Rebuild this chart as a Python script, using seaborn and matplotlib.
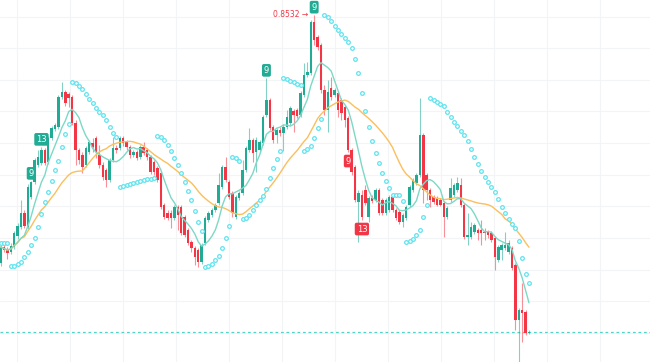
import numpy as np
import pandas as pd
import matplotlib
matplotlib.use("Agg")
import matplotlib.pyplot as plt
import seaborn as sns

# candle data, price x 1000 (one entry per candle, left to right)
opens = [605, 621, 618, 616, 621, 632, 641, 655, 641, 671,
         686, 703, 705, 718, 706, 730, 739, 741, 771, 776,
         774, 771, 745, 718, 713, 703, 716, 725, 730, 713,
         703, 698, 688, 708, 720, 720, 730, 726, 721, 713,
         716, 711, 721, 718, 711, 706, 700, 695, 663, 655,
         655, 650, 661, 661, 651, 638, 626, 620, 618, 606,
         625, 648, 653, 658, 665, 681, 701, 686, 675, 651,
         670, 675, 698, 718, 728, 716, 718, 725, 753, 768,
         741, 733, 738, 735, 741, 745, 757, 758, 753, 773,
         793, 795, 846, 831, 823, 778, 758, 780, 773, 775,
         768, 761, 750, 718, 701, 666, 673, 678, 651, 670,
         668, 678, 668, 655, 658, 671, 658, 656, 646, 650,
         663, 678, 685, 693, 733, 693, 678, 671, 670, 668,
         665, 651, 668, 673, 678, 683, 663, 631, 631, 636,
         638, 638, 636, 636, 635, 630, 608, 618, 620, 616,
         620, 603, 548, 558, 556, 535]
highs = [625, 624, 621, 625, 637, 645, 668, 658, 684, 687,
         710, 718, 721, 720, 732, 742, 745, 773, 786, 778,
         776, 773, 748, 720, 716, 722, 728, 730, 732, 723,
         706, 700, 710, 731, 723, 732, 732, 728, 723, 718,
         718, 723, 726, 720, 713, 708, 702, 697, 665, 658,
         658, 663, 663, 663, 653, 640, 628, 622, 620, 625,
         652, 657, 660, 665, 695, 703, 711, 688, 677, 673,
         677, 708, 722, 740, 730, 731, 728, 753, 790, 770,
         743, 740, 741, 744, 758, 762, 759, 760, 777, 805,
         806, 848, 853.2, 833, 825, 783, 788, 791, 780, 777,
         770, 763, 752, 720, 703, 678, 678, 683, 672, 673,
         680, 680, 670, 670, 673, 673, 660, 658, 655, 663,
         683, 690, 695, 770, 735, 695, 680, 673, 672, 670,
         667, 662, 690, 685, 691, 690, 665, 655, 646, 645,
         640, 648, 640, 638, 637, 632, 623, 625, 636, 628,
         622, 605, 560, 585, 558, 538]
lows = [602, 616, 609, 614, 619, 629, 639, 640, 639, 669,
        684, 701, 703, 703, 704, 728, 737, 739, 769, 762,
        761, 743, 703, 704, 695, 701, 714, 716, 710, 700,
        688, 681, 686, 706, 715, 718, 722, 718, 710, 711,
        708, 709, 713, 708, 694, 693, 686, 659, 649, 648,
        640, 648, 638, 633, 631, 623, 616, 603, 601, 604,
        623, 646, 651, 656, 663, 679, 686, 669, 651, 649,
        668, 673, 696, 716, 706, 696, 716, 723, 751, 738,
        725, 725, 732, 717, 739, 743, 736, 750, 751, 771,
        791, 793, 823, 818, 775, 753, 736, 768, 771, 751,
        748, 741, 716, 693, 666, 626, 648, 663, 646, 665,
        666, 653, 653, 653, 656, 656, 648, 644, 641, 648,
        661, 676, 683, 691, 665, 668, 661, 664, 662, 662,
        631, 649, 666, 671, 676, 661, 629, 623, 629, 634,
        628, 623, 628, 630, 626, 598, 606, 608, 618, 614,
        598, 538, 500, 526, 533, 534]
closes = [621, 618, 615, 622, 635, 642, 655, 642, 681, 686,
          708, 711, 718, 705, 730, 740, 743, 771, 776, 765,
          770, 745, 718, 708, 701, 720, 726, 721, 716, 703,
          691, 688, 708, 720, 718, 730, 725, 721, 713, 716,
          710, 721, 715, 711, 696, 696, 688, 661, 651, 650,
          650, 661, 653, 635, 633, 625, 620, 611, 606, 623,
          650, 655, 658, 663, 683, 701, 688, 671, 655, 671,
          675, 698, 720, 728, 715, 728, 726, 751, 768, 740,
          728, 738, 735, 741, 751, 760, 753, 752, 775, 793,
          796, 846, 828, 821, 778, 758, 776, 771, 778, 758,
          755, 748, 718, 696, 668, 675, 651, 665, 670, 667,
          678, 655, 655, 668, 671, 658, 650, 646, 653, 661,
          681, 688, 693, 733, 678, 678, 668, 666, 663, 663,
          651, 660, 680, 683, 685, 663, 631, 633, 641, 643,
          635, 635, 635, 633, 628, 611, 621, 623, 623, 625,
          600, 548, 558, 555, 535, 536]

# TD sequential counts: candle index, text, above (True) / below (False)
label_idx = [9, 12, 78, 92, 102, 106]
label_txt = ["9", "13", "9", "9", "9", "13"]
label_above = [True, True, True, True, False, False]

UP = "#22ab94"
DOWN = "#f23645"
MA_FAST = "#7dd8c6"
MA_SLOW = "#fbbf5c"
SAR_COL = "#5fe3ef"


def parabolic_sar(high, low, step=0.02, max_step=0.2):
    sar = np.zeros(len(high))
    up = False
    af = step
    ep = low[0]
    sar[0] = high[0]
    for i in range(1, len(high)):
        s = sar[i - 1] + af * (ep - sar[i - 1])
        if up:
            s = min(s, low[i - 1], low[max(i - 2, 0)])
            if low[i] < s:
                up, s, ep, af = False, ep, low[i], step
            elif high[i] > ep:
                ep, af = high[i], min(af + step, max_step)
        else:
            s = max(s, high[i - 1], high[max(i - 2, 0)])
            if high[i] > s:
                up, s, ep, af = True, ep, high[i], step
            elif low[i] < ep:
                ep, af = low[i], min(af + step, max_step)
        sar[i] = s
    return sar


df = pd.DataFrame({"open": opens, "high": highs, "low": lows, "close": closes}) / 1000
df["i"] = np.arange(len(df))
df["ma_fast"] = df["close"].rolling(7, min_periods=1).mean()
df["ma_slow"] = df["close"].rolling(25, min_periods=1).mean()
df["sar"] = parabolic_sar(df["high"].values, df["low"].values)

sns.set_style("white")
fig = plt.figure(figsize=(6.5, 3.62), dpi=100)
ax = fig.add_axes([0, 0, 1, 1])

# candles
rising = df["close"] >= df["open"]
cols = np.where(rising, UP, DOWN)
ax.vlines(df["i"], df["low"], df["high"], colors=cols, linewidth=0.8, alpha=0.55, zorder=2)
body = np.maximum((df["close"] - df["open"]).abs(), 0.0012)
ax.bar(df["i"], body, bottom=np.minimum(df["open"], df["close"]), width=0.72,
       color=cols, linewidth=0, zorder=3)

# moving averages
sns.lineplot(data=df, x="i", y="ma_slow", color=MA_SLOW, linewidth=1.0, ax=ax, zorder=4)
sns.lineplot(data=df, x="i", y="ma_fast", color=MA_FAST, linewidth=1.0, ax=ax, zorder=4)

# parabolic SAR
sns.scatterplot(data=df, x="i", y="sar", marker="o", s=7, facecolor="white",
                edgecolor=SAR_COL, linewidth=0.9, ax=ax, zorder=5)

# last price line
ax.axhline(df["close"].iloc[-1], color="#4fd4c6", linewidth=0.9, linestyle=(0, (2.2, 2.2)), zorder=1)

# count labels
for idx, txt, above in zip(label_idx, label_txt, label_above):
    if above:
        y, off, c = df["high"][idx], 5.5, UP
    else:
        y, off, c = df["low"][idx], -6.5, DOWN
    ax.annotate(txt, (idx, y), xytext=(0, off), textcoords="offset points",
                ha="center", va="center", fontsize=6, color="white", zorder=6,
                bbox=dict(boxstyle="round,pad=0.22", fc=c, ec="none"))

# high marker
peak = df["high"].idxmax()
ax.annotate(f"{df['high'][peak]:.4f} \u2192", (peak, df["high"][peak]), xytext=(-4, 0.5),
            textcoords="offset points", ha="right", va="center", fontsize=5.5,
            color=DOWN, zorder=6)

ax.set_xlim(-0.15, 190.5)
ax.set_ylim(0.506, 0.868)
ax.set_xticks(np.arange(4.84, 191, 15.54))
ax.set_yticks(np.arange(0.535, 0.87, 0.03165))
ax.grid(True, color="#f3f4f6", linewidth=0.8)
ax.set_axisbelow(True)
ax.tick_params(left=False, bottom=False, labelleft=False, labelbottom=False)
ax.set_xlabel("")
ax.set_ylabel("")
for sp in ax.spines.values():
    sp.set_visible(False)

fig.savefig("out.png", dpi=100)
